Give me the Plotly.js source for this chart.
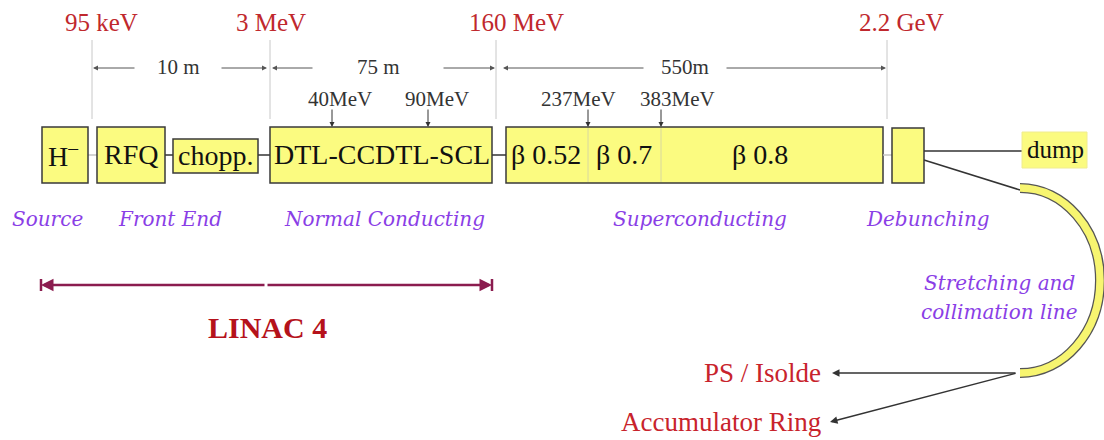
<!DOCTYPE html>
<html>
<head>
<meta charset="utf-8">
<script src="https://cdn.plot.ly/plotly-3.0.1.min.js"></script>
<style>html,body{margin:0;padding:0;background:#fff;}#chart{width:1104px;height:440px;}</style>
</head>
<body>
<div id="chart"></div>
<script>
// ---- content (text values) ----
const energyLabels = ['95 keV', '3 MeV', '160 MeV', '2.2 GeV'];
const lengthLabels = ['10 m', '75 m', '550m'];
const componentLabels = ['H<sup>\u2013</sup>', 'RFQ', 'chopp.', 'DTL-CCDTL-SCL', '\u03b2 0.52', '\u03b2 0.7', '\u03b2 0.8', '', 'dump'];
const transitionEnergies = ['40MeV', '90MeV', '237MeV', '383MeV'];
const sectionLabels = ['Source', 'Front End', 'Normal Conducting', 'Superconducting', 'Debunching'];
const destinationLabels = ['PS / Isolde', 'Accumulator Ring'];
const linacLabel = 'LINAC 4';
const transferLineLabel = ['Stretching and', 'collimation line'];

// ---- drawing geometry (diagram layout, pixel space) ----
const energyMarkX = [92, 270, 496, 887];
const energyTextX = [101, 271, 516, 901];
const lengthSpans = [[93, 267, 178, 42], [272, 495, 378, 64], [503, 886, 685, 40]];
const boxes = [ // x0,x1,y0,y1,textX
  [42, 88, 127, 183, 63], [97, 165, 127, 183, 131], [173, 258, 139, 173, 215],
  [270, 492, 127, 183, 382], [506, 588, 127, 183, 546], [588, 661, 127, 183, 624],
  [661, 883, 127, 183, 760], [892, 924, 128, 183, 908], [1022, 1087, 132, 168, 1055]
];
const links = [[88, 97, 155, '#c4c4c4'], [165, 173, 155, '#333'], [258, 270, 155, '#333'],
  [492, 506, 155, '#333'], [883, 892, 155, '#c4c4c4'], [924, 1022, 151, '#333']];
const transitionTextX = [340, 437, 578, 677];
const transitionArrowX = [332, 428, 588, 661];
const sectionX = [47, 170, 384, 700, 928];

const SERIF = '"Liberation Serif", "Times New Roman", serif';
const ITAL = '"DejaVu Serif", serif';
const RED = '#c0282d';
const PURPLE = '#8a3ee6';
const YELLOW = '#fbfb80';

const shapes = [];
const ann = [];

// vertical energy markers
energyMarkX.forEach((x, i) => {
  shapes.push({type: 'line', x0: x, x1: x, y0: 40, y1: 119, line: {color: '#c8c8c8', width: 1}});
  ann.push({x: energyTextX[i], y: 22, text: energyLabels[i], showarrow: false,
    font: {family: SERIF, size: 25, color: RED}});
});

// length dimension arrows
lengthSpans.forEach((s, i) => {
  const [a, b, c, h] = s;
  ann.push({x: a, y: 68, ax: c - h, ay: 68, axref: 'x', ayref: 'y', text: '', showarrow: true,
    arrowhead: 2, arrowsize: 1, arrowwidth: 1, arrowcolor: '#555', standoff: 0, startstandoff: 0});
  ann.push({x: b, y: 68, ax: c + h, ay: 68, axref: 'x', ayref: 'y', text: '', showarrow: true,
    arrowhead: 2, arrowsize: 1, arrowwidth: 1, arrowcolor: '#555', standoff: 0, startstandoff: 0});
  ann.push({x: c, y: 67, text: lengthLabels[i], showarrow: false,
    font: {family: SERIF, size: 21, color: '#333'}});
});

// connecting beam lines
links.forEach(l => {
  shapes.push({type: 'line', x0: l[0], x1: l[1], y0: l[2], y1: l[2], line: {color: l[3], width: 1.5}});
});
// debunching -> stretching line
shapes.push({type: 'line', x0: 924, y0: 160, x1: 1020, y1: 190, line: {color: '#333', width: 1.5}});

// component boxes
boxes.forEach((b, i) => {
  const last = i === boxes.length - 1;
  const sc = i >= 4 && i <= 6;
  if (!sc) {
    shapes.push({type: 'rect', x0: b[0], x1: b[1], y0: b[2], y1: b[3],
      fillcolor: YELLOW, line: {color: last ? '#f0ec90' : '#3a3a3a', width: last ? 1 : 1.5}});
  }
  if (componentLabels[i]) {
    ann.push({x: b[4], y: (b[2] + b[3]) / 2 - 1, text: componentLabels[i], showarrow: false,
      font: {family: SERIF, size: last ? 25 : 28, color: '#111'}});
  }
});
// superconducting linac: one box with internal dividers
shapes.push({type: 'rect', x0: boxes[4][0], x1: boxes[6][1], y0: 127, y1: 183,
  fillcolor: YELLOW, line: {color: '#3a3a3a', width: 1.5}, layer: 'below'});
[boxes[4][1], boxes[5][1]].forEach(x => shapes.push({type: 'line', x0: x, x1: x, y0: 128, y1: 182,
  line: {color: '#d8d8a0', width: 1}}));

// transition energies
transitionEnergies.forEach((t, i) => {
  ann.push({x: transitionTextX[i], y: 99, text: t, showarrow: false,
    font: {family: SERIF, size: 21, color: '#333'}});
  ann.push({x: transitionArrowX[i], y: 127, ax: transitionArrowX[i], ay: 108, axref: 'x', ayref: 'y',
    text: '', showarrow: true, arrowhead: 2, arrowsize: 1, arrowwidth: 1, arrowcolor: '#333',
    standoff: 0, startstandoff: 0});
});

// section names
sectionLabels.forEach((s, i) => {
  ann.push({x: sectionX[i], y: 219, text: '<i>' + s + '</i>', showarrow: false,
    font: {family: ITAL, size: 20, color: PURPLE}});
});

// LINAC 4 span
[[41, 266], [492, 266]].forEach(p => {
  ann.push({x: p[0], y: 285, ax: p[1], ay: 285, axref: 'x', ayref: 'y', text: '', showarrow: true,
    arrowhead: 2, arrowsize: 1, arrowwidth: 2.5, arrowcolor: '#8b1c4f', standoff: 0, startstandoff: 0});
  shapes.push({type: 'line', x0: p[0], x1: p[0], y0: 279, y1: 291, line: {color: '#8b1c4f', width: 2.5}});
});
ann.push({x: 267, y: 327, text: '<b>' + linacLabel + '</b>', showarrow: false,
  font: {family: SERIF, size: 30, color: '#b5121b'}});

// stretching & collimation arc (half ellipse)
const cx = 1020, cy = 280.5, rx = 80, ry = 92.5, k = 0.5523;
const arcPath = `M ${cx},${cy - ry} C ${cx + k * rx},${cy - ry} ${cx + rx},${cy - k * ry} ${cx + rx},${cy} ` +
  `C ${cx + rx},${cy + k * ry} ${cx + k * rx},${cy + ry} ${cx},${cy + ry}`;
shapes.push({type: 'path', path: arcPath, line: {color: '#555', width: 10}});
shapes.push({type: 'path', path: arcPath, line: {color: '#f7f570', width: 7.5}});
transferLineLabel.forEach((t, i) => {
  ann.push({x: 999, y: 283 + i * 29, text: '<i>' + t + '</i>', showarrow: false,
    font: {family: ITAL, size: 20, color: PURPLE}});
});

// destinations
const destTip = [[832, 373], [830, 422]];
destinationLabels.forEach((d, i) => {
  ann.push({x: destTip[i][0], y: destTip[i][1], ax: 1017, ay: 373, axref: 'x', ayref: 'y', text: '',
    showarrow: true, arrowhead: 2, arrowsize: 1, arrowwidth: 1.5, arrowcolor: '#333',
    standoff: 0, startstandoff: 0});
  ann.push({x: 823, y: destTip[i][1], xanchor: 'right', text: d, showarrow: false,
    font: {family: SERIF, size: 27, color: '#c8232c'}});
});

const layout = {
  width: 1104, height: 440,
  margin: {l: 0, r: 0, t: 0, b: 0},
  paper_bgcolor: '#fff', plot_bgcolor: '#fff',
  xaxis: {range: [0, 1104], visible: false, fixedrange: true},
  yaxis: {range: [440, 0], visible: false, fixedrange: true},
  showlegend: false,
  shapes: shapes,
  annotations: ann
};
Plotly.newPlot('chart', [{x: [], y: [], type: 'scatter', hoverinfo: 'skip'}], layout,
  {displayModeBar: false, staticPlot: true});
</script>
</body>
</html>
